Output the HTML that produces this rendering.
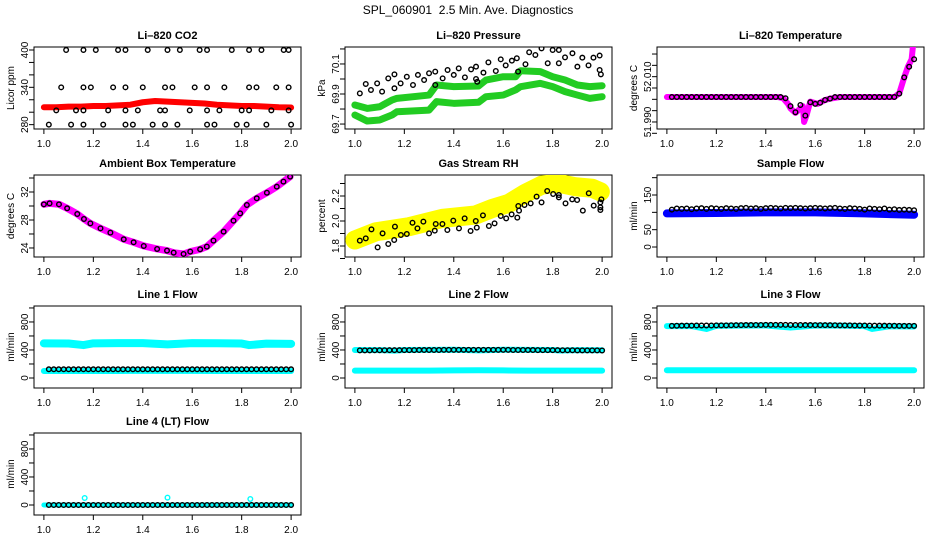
<!DOCTYPE html>
<html><head><meta charset="utf-8"><style>
html,body{margin:0;padding:0;background:#fff;}
svg{display:block;font-family:"Liberation Sans",Arial,sans-serif;}
</style></head><body>
<svg id="chart" width="936" height="540" viewBox="0 0 936 540" xmlns="http://www.w3.org/2000/svg">
<rect x="0" y="0" width="936" height="540" fill="#fff"/>
<text x="468" y="14" text-anchor="middle" font-size="12">SPL_060901&#160; 2.5 Min. Ave. Diagnostics</text>
</svg>
<script>
// ---------- data ----------
const xTicks=[1.0,1.2,1.4,1.6,1.8,2.0];
const xTickLabels=['1.0','1.2','1.4','1.6','1.8','2.0'];
const gridN=50; // samples at 1.02..2.00

const co2RedX=[1.0,1.05,1.1,1.15,1.2,1.25,1.3,1.35,1.4,1.45,1.5,1.55,1.6,1.65,1.7,1.75,1.8,1.85,1.9,1.95,2.0];
const co2RedY=[308,308,309,309,310,310,311,312,316,318,317,316,315,314,312,311,310,310,309,308,307.5];
const co2PtsX=[1.09,1.16,1.21,1.30,1.33,1.42,1.50,1.55,1.63,1.66,1.76,1.83,1.88,1.97,1.99,
1.07,1.16,1.19,1.28,1.33,1.40,1.49,1.52,1.61,1.66,1.73,1.83,1.86,1.94,1.99,
1.05,1.13,1.16,1.26,1.33,1.38,1.47,1.49,1.59,1.66,1.71,1.80,1.83,1.92,1.99,
1.02,1.11,1.16,1.24,1.33,1.36,1.44,1.49,1.54,1.66,1.69,1.78,1.82,1.90,2.00];
const co2PtsY=[400,400,400,400,400,400,400,400,400,400,400,400,400,400,400,
340,340,340,340,340,340,340,340,340,340,340,340,340,340,340,
303,303,303,303,303,303,303,303,303,303,303,303,303,303,303,
280,280,280,280,280,280,280,280,280,280,280,280,280,280,280];

const presBandX=[1.0,1.05,1.1,1.15,1.17,1.3,1.33,1.4,1.5,1.53,1.6,1.65,1.67,1.75,1.8,1.85,1.9,1.95,2.0];
const presUpperY=[69.827,69.804,69.815,69.86,69.871,69.893,69.96,69.949,69.953,69.993,70.015,70.015,70.055,70.049,70.015,69.993,69.96,69.949,69.955];
const presLowerY=[69.76,69.72,69.727,69.76,69.782,69.793,69.849,69.838,69.845,69.882,69.893,69.927,69.949,69.971,69.949,69.916,69.893,69.871,69.882];
const presPtsX=[1.02,1.044,1.065,1.09,1.11,1.135,1.16,1.16,1.185,1.21,1.235,1.255,1.28,1.30,1.325,1.325,1.355,1.375,1.40,1.42,1.445,1.47,1.49,1.49,1.495,1.52,1.54,1.57,1.59,1.61,1.635,1.655,1.66,1.69,1.705,1.73,1.755,1.78,1.80,1.825,1.825,1.85,1.88,1.90,1.92,1.945,1.965,1.99,1.99,1.995];
const presPtsY=[69.904,69.967,69.927,69.971,69.916,70.004,70.031,69.938,69.971,70.015,69.96,70.027,69.993,70.038,70.049,69.96,70.004,70.06,70.027,70.071,70.011,70.064,70.082,70.0,69.982,70.042,70.111,70.053,70.131,70.091,70.122,70.138,70.049,70.098,70.178,70.16,70.204,70.105,70.193,70.193,70.105,70.144,70.171,70.082,70.142,70.091,70.142,70.156,70.06,70.031];

const tempBandX=[1.0,1.45,1.47,1.49,1.5,1.52,1.55,1.555,1.565,1.58,1.61,1.64,1.66,1.7,1.92,1.94,1.96,1.975,1.99,1.995];
const tempBandY=[52.001,52.001,52.0005,51.998,51.996,51.994,51.997,51.990,51.993,51.999,51.998,51.9997,52.0003,52.001,52.001,52.0027,52.0097,52.0144,52.0177,52.0232];
const tempPtsY=[52.001,52.001,52.001,52.001,52.001,52.001,52.001,52.001,52.001,52.001,52.001,52.001,52.001,52.001,52.001,52.001,52.001,52.001,52.001,52.001,52.001,52.001,52.001,
52.0005,51.997,51.9943,51.9975,51.9928,51.9987,51.998,51.9985,51.9997,52.0003,
52.001,52.001,52.001,52.001,52.001,52.001,52.001,52.001,52.001,52.001,52.001,52.001,52.001,
52.0025,52.0097,52.0144,52.0177];

const ambX=[1.0,1.023,1.061,1.094,1.135,1.162,1.188,1.229,1.269,1.323,1.363,1.404,1.458,1.498,1.525,1.565,1.592,1.632,1.659,1.686,1.727,1.767,1.794,1.821,1.861,1.902,1.942,1.969,1.996];
const ambY=[30.24,30.38,30.24,29.67,28.86,28.14,27.52,26.81,26.19,25.24,24.81,24.29,23.86,23.62,23.33,23.14,23.48,23.81,24.19,25.05,26.33,27.9,28.95,30.14,31.1,31.9,32.76,33.48,34.19];

const rhBandX=[1.0,1.085,1.22,1.354,1.488,1.555,1.623,1.69,1.757,1.824,1.892,1.96,1.993];
const rhBandY=[1.848,1.914,1.955,2.021,2.048,2.1,2.141,2.222,2.288,2.302,2.274,2.262,2.234];
const rhPtsX=[1.02,1.044,1.067,1.092,1.112,1.135,1.159,1.162,1.186,1.21,1.233,1.253,1.277,1.30,1.323,1.327,1.354,1.374,1.398,1.421,1.444,1.468,1.489,1.493,1.518,1.542,1.565,1.59,1.612,1.634,1.657,1.661,1.664,1.686,1.711,1.735,1.755,1.778,1.802,1.825,1.825,1.852,1.879,1.899,1.922,1.946,1.966,1.993,1.993,1.997,1.993];
const rhPtsY=[1.843,1.861,1.933,1.789,1.901,1.816,1.848,1.955,1.888,1.896,1.986,1.941,1.995,1.901,1.923,1.976,1.976,1.928,2.003,1.941,2.021,1.92,2.0,1.947,2.045,1.96,1.981,2.04,2.021,2.053,2.027,2.12,2.083,2.128,2.141,2.195,2.149,2.24,2.216,2.208,2.189,2.141,2.173,2.168,2.083,2.222,2.123,2.109,2.149,2.173,2.088];

const sampBandX=[1.0,1.2,1.4,1.6,1.8,2.0];
const sampBandY=[97,98,100,100,97,93];
const sampPtsY=[108,111,110,111,109,111,112,110,112,111,110,112,111,110,112,113,111,112,110,112,113,112,111,113,112,113,112,111,112,113,112,111,112,113,111,110,112,111,110,108,111,110,109,111,108,109,107,108,107,106];

const cyanX=[1.0,1.1,1.16,1.2,1.3,1.4,1.5,1.6,1.7,1.8,1.83,1.9,2.0];
const line1UpperY=[495,492,470,495,497,498,480,498,496,492,470,490,488];
const line1LowerY=[100,100,100,100,100,102,102,102,100,100,100,100,100];
const line1PtsY=[124,124,124,124,124,124,124,124,124,124,124,124,124,124,124,124,124,124,124,124,124,124,124,124,124,124,124,124,124,124,124,124,124,124,124,124,124,124,124,124,124,124,124,124,124,124,124,124,124,124];
const line2UpperY=[400,398,390,400,402,403,395,403,402,400,392,398,396];
const line2LowerY=[105,105,105,105,105,108,110,108,105,105,105,105,105];
const line2PtsY=[395,395,395,396,396,396,397,397,397,398,398,398,399,399,399,400,400,401,401,401,402,402,402,402,402,402,402,402,401,401,401,400,400,400,399,399,398,398,398,397,397,396,396,396,395,395,394,394,394,393];
const line3UpperY=[740,742,700,745,748,750,720,750,748,740,700,738,735];
const line3LowerY=[110,110,110,110,110,110,110,110,110,110,110,110,110];
const line3PtsY=[745,746,747,748,748,749,749,750,750,751,752,752,753,754,755,756,756,757,757,758,758,758,758,758,757,757,757,756,756,755,755,754,754,753,752,752,751,750,750,749,748,748,747,747,746,746,745,745,745,745];
const line4BandY=[0,0,0,0,0,0,0,0,0,0,0,0,0];
const line4SpikeX=[1.165,1.5,1.835];
const line4SpikeY=[100,105,85];
const line4PtsY=[0,0,0,0,0,0,0,0,0,0,0,0,0,0,0,0,0,0,0,0,0,0,0,0,0,0,0,0,0,0,0,0,0,0,0,0,0,0,0,0,0,0,0,0,0,0,0,0,0,0];

// ---------- rendering ----------
const NS='http://www.w3.org/2000/svg';
const svg=document.getElementById('chart');
const gridX=[];for(let i=0;i<gridN;i++)gridX.push(+(1.02+0.02*i).toFixed(2));
const XMIN=0.96,XMAX=2.04,W=267,H=82;
function el(tag,attrs,name,parent){
  const e=document.createElementNS(NS,tag);
  for(const k in attrs)e.setAttribute(k,attrs[k]);
  
  
  (parent||svg).appendChild(e);return e;
}
function panel(id,title,ylab,left,top,ymin,ymax,yticks,ylabels){
  const g=el('g',{},id+'-panel');
  const sx=v=>left+(v-XMIN)/(XMAX-XMIN)*W;
  const sy=v=>top+(ymax-v)/(ymax-ymin)*H;
  const t=el('text',{x:left+W/2,y:top-8,'text-anchor':'middle','font-size':11,'font-weight':'bold'},id+'-title',g);t.textContent=title;
  el('rect',{x:left,y:top,width:W,height:H,fill:'none',stroke:'#000','stroke-width':1},id+'-plot-frame',g);
  xTicks.forEach((v,i)=>{
    el('line',{x1:sx(v),x2:sx(v),y1:top+H,y2:top+H+5,stroke:'#000'},id+'-x-tick',g);
    const tl=el('text',{x:sx(v),y:top+H+18,'text-anchor':'middle','font-size':10},id+'-x-tick-label',g);tl.textContent=xTickLabels[i];
  });
  yticks.forEach(v=>{el('line',{x1:left-5,x2:left,y1:sy(v),y2:sy(v),stroke:'#000'},id+'-y-tick',g);});
  ylabels.forEach(p=>{
    const tl=el('text',{x:0,y:0,'text-anchor':'middle','font-size':10,transform:`translate(${left-6},${sy(p[0])}) rotate(-90)`},id+'-y-tick-label',g);tl.textContent=p[1];
  });
  const yl=el('text',{x:0,y:0,'text-anchor':'middle','font-size':10,transform:`translate(${left-20},${top+H/2}) rotate(-90)`},id+'-y-axis-title',g);yl.textContent=ylab;
  const clip=el('clipPath',{id:id+'-clip'},id+'-clip',g);
  el('rect',{x:left,y:top,width:W,height:H},id+'-clip-rect',clip);
  const pg=el('g',{'clip-path':`url(#${id}-clip)`},id+'-marks',g);
  return {sx,sy,g:pg,id};
}
function band(p,xs,ys,color,w,name){
  el('polyline',{points:xs.map((x,i)=>p.sx(x)+','+p.sy(ys[i])).join(' '),fill:'none',stroke:color,'stroke-width':w,'stroke-linejoin':'round','stroke-linecap':'round'},name,p.g);
}
function pts(p,xs,ys,color,name){
  xs.forEach((x,i)=>{el('circle',{cx:p.sx(x),cy:p.sy(ys[i]),r:2.3,fill:'none',stroke:color,'stroke-width':1.4},name,p.g);});
}
const L=[34,345,657],T=[47,175,306,433];
function rng(a,b,s){const r=[];for(let v=a;v<=b+s/1000;v+=s)r.push(+v.toFixed(4));return r;}

let p=panel('co2','Li\u2013820 CO2','Licor ppm',L[0],T[0],273,404.8,rng(280,400,20),[[280,'280'],[340,'340'],[400,'400']]);
band(p,co2RedX,co2RedY,'#ff0000',6,'co2-red-band');pts(p,co2PtsX,co2PtsY,'#000','co2-point');

p=panel('pressure','Li\u2013820 Pressure','kPa',L[1],T[0],69.667,70.213,rng(69.7,70.2,0.1),[[69.7,'69.7'],[69.9,'69.9'],[70.1,'70.1']]);
band(p,presBandX,presUpperY,'#22cc22',7,'pressure-upper-band');band(p,presBandX,presLowerY,'#22cc22',7,'pressure-lower-band');pts(p,presPtsX,presPtsY,'#000','pressure-point');

p=panel('temp','Li\u2013820 Temperature','degrees C',L[2],T[0],51.9869,52.0231,rng(51.985,52.02,0.005),[[51.99,'51.990'],[52.01,'52.010']]);
band(p,tempBandX,tempBandY,'#ff00ff',6,'temp-band');pts(p,gridX,tempPtsY,'#000','temp-point');

p=panel('ambient','Ambient Box Temperature','degrees C',L[0],T[1],22.71,34.43,rng(24,34,2),[[24,'24'],[28,'28'],[32,'32']]);
band(p,ambX,ambY,'#ff00ff',7,'ambient-band');pts(p,ambX,ambY,'#000','ambient-point');

p=panel('rh','Gas Stream RH','percent',L[1],T[1],1.712,2.368,rng(1.7,2.3,0.1),[[1.8,'1.8'],[2.0,'2.0'],[2.2,'2.2']]);
band(p,rhBandX,rhBandY,'#ffff00',19,'rh-band');pts(p,rhPtsX,rhPtsY,'#000','rh-point');

p=panel('sample','Sample Flow','ml/min',L[2],T[1],-28.8,207.7,rng(0,200,50),[[0,'0'],[50,'50'],[150,'150']]);
band(p,sampBandX,sampBandY,'#0000ff',8,'sample-band');pts(p,gridX,sampPtsY,'#000','sample-point');

const fTicks=rng(0,1000,200),fLabels=[[0,'0'],[400,'400'],[800,'800']];
p=panel('line1','Line 1 Flow','ml/min',L[0],T[2],-143,1028,fTicks,fLabels);
band(p,cyanX,line1UpperY,'#00ffff',8,'line1-upper-band');band(p,cyanX,line1LowerY,'#00ffff',6,'line1-lower-band');pts(p,gridX,line1PtsY,'#000','line1-point');

p=panel('line2','Line 2 Flow','ml/min',L[1],T[2],-143,1028,fTicks,fLabels);
band(p,cyanX,line2UpperY,'#00ffff',6,'line2-upper-band');band(p,cyanX,line2LowerY,'#00ffff',6,'line2-lower-band');pts(p,gridX,line2PtsY,'#000','line2-point');

p=panel('line3','Line 3 Flow','ml/min',L[2],T[2],-143,1028,fTicks,fLabels);
band(p,cyanX,line3UpperY,'#00ffff',6,'line3-upper-band');band(p,cyanX,line3LowerY,'#00ffff',6,'line3-lower-band');pts(p,gridX,line3PtsY,'#000','line3-point');

p=panel('line4','Line 4 (LT) Flow','ml/min',L[0],T[3],-143,1028,fTicks,fLabels);
band(p,cyanX,line4BandY,'#00ffff',5,'line4-band');pts(p,line4SpikeX,line4SpikeY,'#00ffff','line4-spike');pts(p,gridX,line4PtsY,'#000','line4-point');
</script>
</body></html>
